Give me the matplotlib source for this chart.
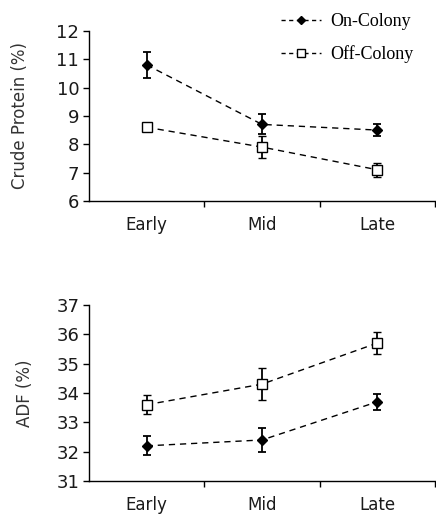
import matplotlib
matplotlib.use('Agg')
import matplotlib.pyplot as plt
from matplotlib.lines import Line2D

# stages along the x axis
stages = ['Early', 'Mid', 'Late']

# crude protein (%)
cp_on = [10.8, 8.7, 8.5]
cp_on_err = [0.45, 0.35, 0.2]
cp_off = [8.6, 7.9, 7.1]
cp_off_err = [0.05, 0.38, 0.25]

# ADF (%)
adf_on = [32.2, 32.4, 33.7]
adf_on_err = [0.32, 0.4, 0.28]
adf_off = [33.6, 34.3, 35.7]
adf_off_err = [0.33, 0.55, 0.37]

plt.rcParams['font.family'] = 'DejaVu Sans'

fig = plt.figure(figsize=(4.36, 5.14), dpi=100)
ax_top = fig.add_axes([0.204, 0.609, 0.794, 0.331])
ax_bot = fig.add_axes([0.204, 0.064, 0.794, 0.343])

xs = list(range(1, len(stages) + 1))


def draw_panel(ax, on, on_err, off, off_err, ylim, ylabel, labelpad):
    line_kw = dict(color='black', linestyle=(0, (4.5, 3.5)), linewidth=1.0,
                   capsize=2.7, elinewidth=1.3, capthick=1.3)
    ax.errorbar(xs, on, yerr=on_err, marker='D', markersize=5,
                markerfacecolor='black', markeredgecolor='black',
                label='On-Colony', **line_kw)
    ax.errorbar(xs, off, yerr=off_err, marker='s', markersize=6.5,
                markerfacecolor='white', markeredgecolor='black',
                markeredgewidth=1.0, label='Off-Colony', **line_kw)
    ax.set_xlim(0.5, 3.5)
    ax.set_ylim(*ylim)
    ax.set_yticks(range(ylim[0], ylim[1] + 1))
    ax.set_xticks(xs)
    ax.set_xticklabels(stages)
    ax.set_xticks([1.5, 2.5, 3.5], minor=True)
    ax.tick_params(axis='x', which='major', length=0, pad=11, labelsize=12,
                   labelcolor='#1a1a1a')
    ax.tick_params(axis='x', which='minor', length=4, width=1, direction='out')
    ax.tick_params(axis='y', length=4, width=1, direction='out', pad=3,
                   labelsize=13, labelcolor='#1a1a1a')
    for side in ['top', 'right']:
        ax.spines[side].set_visible(False)
    for side in ['left', 'bottom']:
        ax.spines[side].set_linewidth(1.0)
    ax.set_ylabel(ylabel, fontsize=12, color='#333333', labelpad=labelpad)


draw_panel(ax_top, cp_on, cp_on_err, cp_off, cp_off_err,
           (6, 12), 'Crude Protein (%)', 20)
draw_panel(ax_bot, adf_on, adf_on_err, adf_off, adf_off_err,
           (31, 37), 'ADF (%)', 16)

# legend handles without error bars
leg_on = Line2D([], [], color='black', linestyle=(0, (3, 2.5)), linewidth=1.0,
                marker='D', markersize=4, markerfacecolor='black')
leg_off = Line2D([], [], color='black', linestyle=(0, (3, 2.5)), linewidth=1.0,
                 marker='s', markersize=5.5, markerfacecolor='white')
fig.legend([leg_on, leg_off], ['On-Colony', 'Off-Colony'],
           loc='upper right', bbox_to_anchor=(0.985, 1.006), frameon=False,
           prop={'family': 'Liberation Serif', 'size': 13},
           handlelength=2.2, handletextpad=0.5, labelspacing=0.85)

fig.savefig('out.png', dpi=100)
